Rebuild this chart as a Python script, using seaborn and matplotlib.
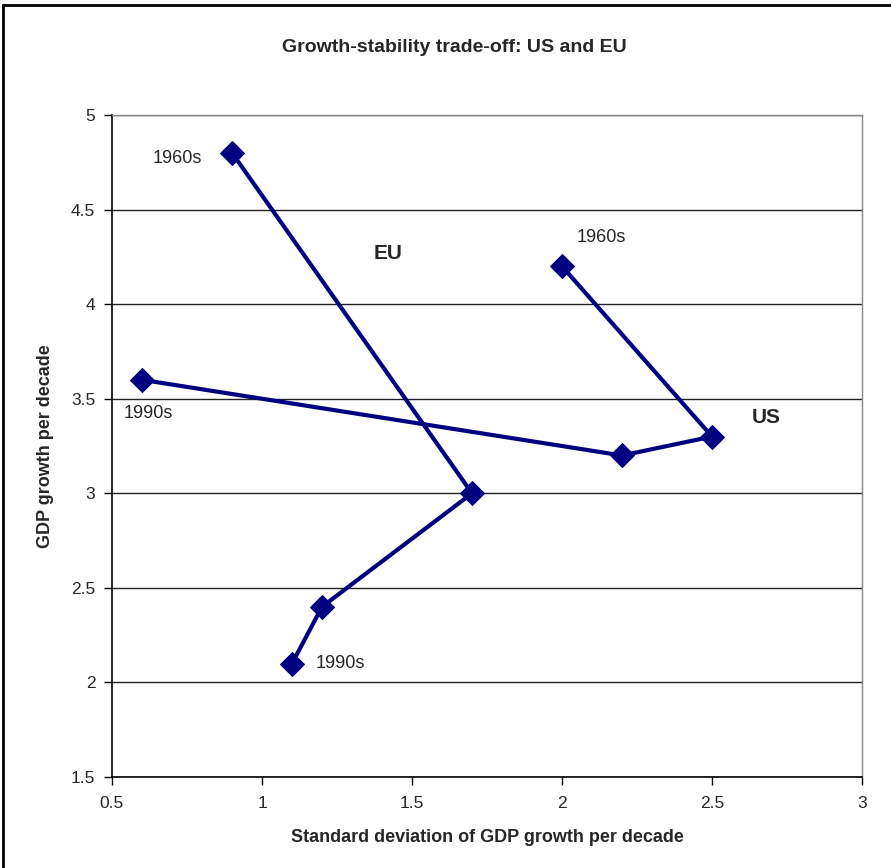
import pandas as pd
import seaborn as sns
from matplotlib import pyplot as plt

# decades 1960s -> 1990s
eu_sd = [0.9, 1.7, 1.2, 1.1]
eu_growth = [4.8, 3.0, 2.4, 2.1]
us_sd = [2.0, 2.5, 2.2, 0.6]
us_growth = [4.2, 3.3, 3.2, 3.6]
decades = ['1960s', '1970s', '1980s', '1990s']

df = pd.DataFrame({
    'sd': eu_sd + us_sd,
    'growth': eu_growth + us_growth,
    'region': ['EU'] * 4 + ['US'] * 4,
    'decade': decades * 2,
})

sns.set_style('white')
plt.rcParams['font.family'] = ['Liberation Sans', 'DejaVu Sans']

fig = plt.figure(figsize=(8.91, 8.68), dpi=100)
ax = fig.add_axes([0.1257, 0.1048, 0.8418, 0.7627])

for region in ['EU', 'US']:
    sub = df[df['region'] == region]
    sns.lineplot(data=sub, x='sd', y='growth', sort=False, ax=ax,
                 color='#000080', linewidth=3, marker='D', markersize=12,
                 markeredgecolor='#000080')

ax.set_xlim(0.5, 3)
ax.set_ylim(1.5, 5)
ax.set_xticks([0.5, 1, 1.5, 2, 2.5, 3])
ax.set_xticklabels(['0.5', '1', '1.5', '2', '2.5', '3'])
ax.set_yticks([1.5, 2, 2.5, 3, 3.5, 4, 4.5, 5])
ax.set_yticklabels(['1.5', '2', '2.5', '3', '3.5', '4', '4.5', '5'])
ax.yaxis.grid(True, color='#222222', linewidth=1)
ax.xaxis.grid(False)
ax.tick_params(axis='both', which='both', direction='out', length=6, width=1,
               color='black', labelsize=12.5, pad=8, left=True, bottom=True)
ax.tick_params(axis='y', pad=6)
for side in ['left', 'bottom']:
    ax.spines[side].set_color('black')
    ax.spines[side].set_linewidth(1.2)
for side in ['top', 'right']:
    ax.spines[side].set_color('#888888')
    ax.spines[side].set_linewidth(1)

ax.set_xlabel('Standard deviation of GDP growth per decade', fontsize=13,
              fontweight='bold', va='center')
ax.xaxis.set_label_coords(0.5, -0.0906)
ax.set_ylabel('GDP growth per decade', fontsize=13, fontweight='bold',
              va='center')
ax.yaxis.set_label_coords(-0.0893, 0.5)
fig.text(0.51, 1 - 48 / 868, 'Growth-stability trade-off: US and EU',
         fontsize=14, fontweight='bold', ha='center', va='center')

ax.text(1.42, 4.27, 'EU', fontsize=15, fontweight='bold', ha='center', va='center')
ax.text(2.68, 3.40, 'US', fontsize=15, fontweight='bold', ha='center', va='center')
ax.text(0.717, 4.77, '1960s', fontsize=13, ha='center', va='center')
ax.text(2.13, 4.355, '1960s', fontsize=13, ha='center', va='center')
ax.text(1.26, 2.10, '1990s', fontsize=13, ha='center', va='center')
ax.text(0.62, 3.42, '1990s', fontsize=13, ha='center', va='center')

# outer chart frame (right and bottom edges run off the picture)
fig.patches.append(plt.Rectangle((0.003, -0.1), 1.2, 1.094, transform=fig.transFigure,
                                 fill=False, edgecolor='black', linewidth=2))

fig.savefig('out.png', dpi=100)
